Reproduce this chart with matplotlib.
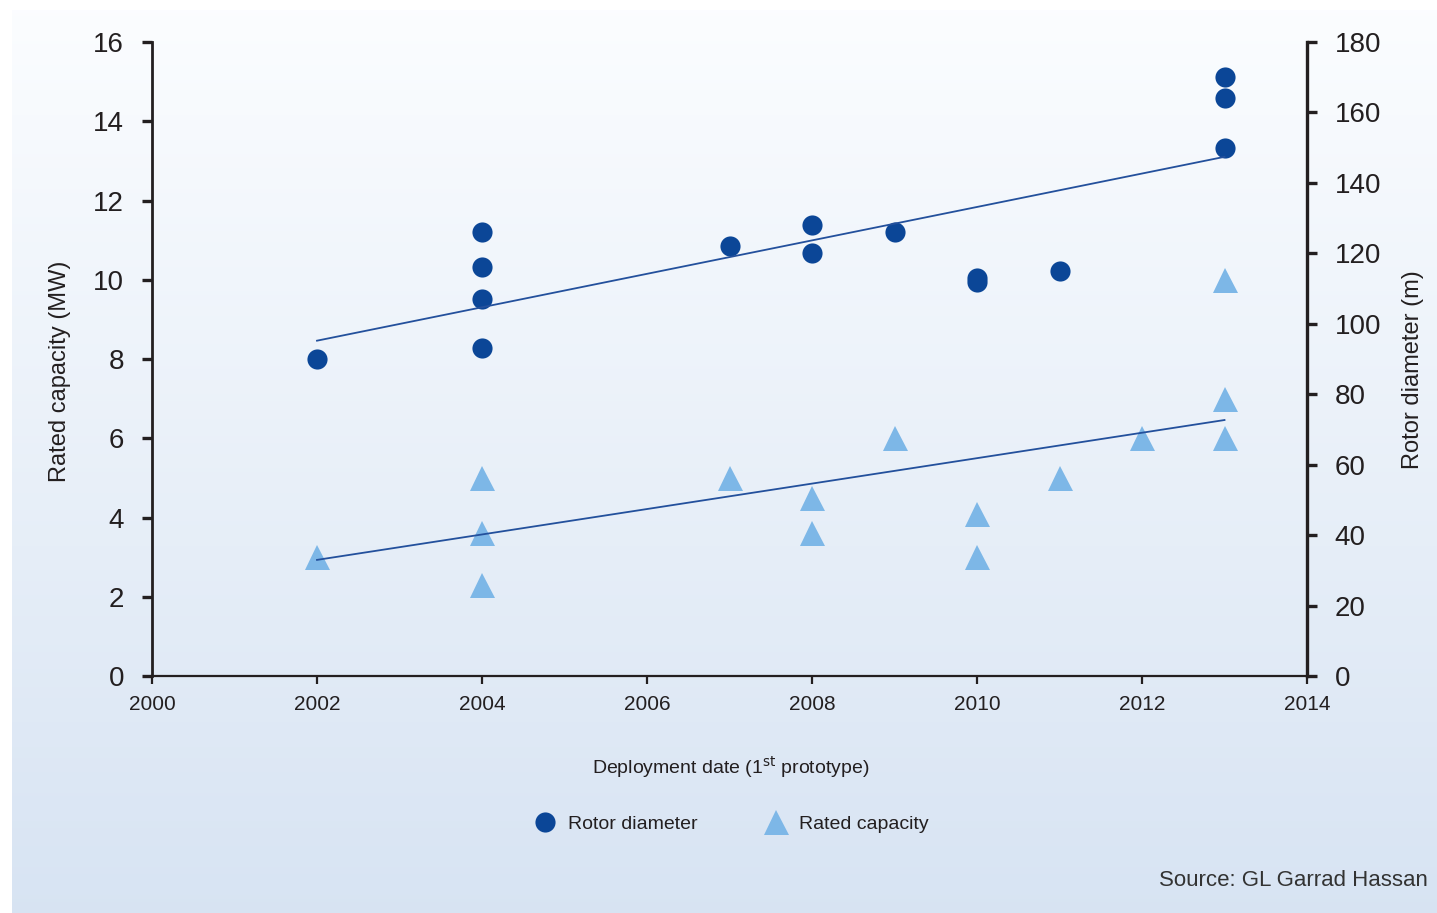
import numpy as np
import matplotlib.pyplot as plt

# offshore turbine prototypes: deployment year vs rotor size / rated power
rotor_years = [2002, 2004, 2004, 2004, 2004, 2007, 2008, 2008, 2009,
               2010, 2010, 2011, 2013, 2013, 2013]
rotor_diameter = [90, 126, 116, 107, 93, 122, 128, 120, 126,
                  113, 112, 115, 170, 164, 150]

capacity_years = [2002, 2004, 2004, 2004, 2007, 2008, 2008, 2009,
                  2010, 2010, 2011, 2012, 2013, 2013, 2013]
rated_capacity = [3.0, 5.0, 3.6, 2.3, 5.0, 4.5, 3.6, 6.0,
                  4.1, 3.0, 5.0, 6.0, 10.0, 7.0, 6.0]

# trend lines as drawn in the source chart
trend_years = [2002, 2013]
rotor_trend = [95.2, 147.4]
capacity_trend = [2.93, 6.46]

DARK = '#0b4697'
LIGHT = '#7db7e7'
LINE = '#23509c'
INK = '#231f20'
NARROW = ['Liberation Sans Narrow', 'Liberation Sans', 'DejaVu Sans']
REGULAR = ['Liberation Sans', 'DejaVu Sans']

fig = plt.figure(figsize=(14.37, 9.13), dpi=100)

# pale blue gradient panel behind everything
bg = fig.add_axes([12 / 1437, 0, 1 - 12 / 1437, 1 - 10 / 913], zorder=-10)
grad = np.linspace(0, 1, 256)[:, None]
top = np.array([0.985, 0.992, 1.0])
bottom = np.array([0.845, 0.893, 0.952])
img = top + (bottom - top) * grad[..., None]
bg.imshow(img, aspect='auto', extent=[0, 1, 0, 1])
bg.axis('off')

ax = fig.add_axes([152 / 1437, 1 - 676 / 913, 1155 / 1437, 634 / 913])
ax.patch.set_visible(False)
ax2 = ax.twinx()

ax.plot(capacity_years, rated_capacity, linestyle='none', marker='^',
        markersize=18, color=LIGHT, markeredgewidth=0, zorder=2)
ax.plot(trend_years, capacity_trend, color=LINE, lw=1.3, zorder=3)

ax2.plot(rotor_years, rotor_diameter, linestyle='none', marker='o',
         markersize=14.5, color=DARK, markeredgewidth=0, zorder=2)
ax2.plot(trend_years, rotor_trend, color=LINE, lw=1.3, zorder=3)

ax.set_xlim(2000, 2014)
ax.set_ylim(0, 16)
ax2.set_ylim(0, 180)
ax.set_xticks(np.arange(2000, 2015, 2))
ax.set_yticks(np.arange(0, 17, 2))
ax2.set_yticks(np.arange(0, 181, 20))

for a in (ax, ax2):
    for s in a.spines.values():
        s.set_visible(False)
ax.spines['left'].set_visible(True)
ax.spines['bottom'].set_visible(True)
ax2.spines['right'].set_visible(True)
ax.spines['left'].set_linewidth(2.0)
ax2.spines['right'].set_linewidth(2.4)
ax.spines['bottom'].set_linewidth(1.6)
for s in (ax.spines['left'], ax.spines['bottom'], ax2.spines['right']):
    s.set_color(INK)

ax.tick_params(axis='y', length=7, width=2.4, pad=13, colors=INK,
               labelsize=20)
ax2.tick_params(axis='y', length=7, width=2.4, pad=13, colors=INK,
                labelsize=20)
ax.tick_params(axis='x', length=6, width=1.6, pad=8, colors=INK,
               labelsize=15)
for lab in ax.get_yticklabels() + ax2.get_yticklabels() + ax.get_xticklabels():
    lab.set_family(NARROW)

ax.set_ylabel('Rated capacity (MW)', family=REGULAR, fontsize=17, color=INK)
ax.yaxis.set_label_coords(-0.070, 0.48)
ax2.set_ylabel('Rotor diameter (m)', family=REGULAR, fontsize=17, color=INK,
               rotation=90)
ax2.yaxis.set_label_coords(1.082, 0.484)

fig.text(731 / 1437, 1 - 767 / 913, r'Deployment date (1$^{\mathrm{st}}$ prototype)',
         ha='center', va='center', family=NARROW, fontsize=14, color=INK)

# legend drawn in figure coordinates below the axis title
leg = fig.legend(handles=[
    plt.Line2D([], [], linestyle='none', marker='o', markersize=14.5,
               color=DARK, markeredgewidth=0, label='Rotor diameter'),
    plt.Line2D([], [], linestyle='none', marker='^', markersize=18,
               color=LIGHT, markeredgewidth=0, label='Rated capacity')],
    loc='center', bbox_to_anchor=(731 / 1437, 1 - 824 / 913), ncol=2,
    frameon=False, columnspacing=3.4, handletextpad=0.6, handlelength=1.2,
    prop={'family': NARROW, 'size': 14})
for t in leg.get_texts():
    t.set_color(INK)

fig.text(1428 / 1437, 1 - 880 / 913, 'Source: GL Garrad Hassan', ha='right',
         va='center', family=REGULAR, fontsize=16, color='#333333')

fig.savefig('out.png', dpi=100)
